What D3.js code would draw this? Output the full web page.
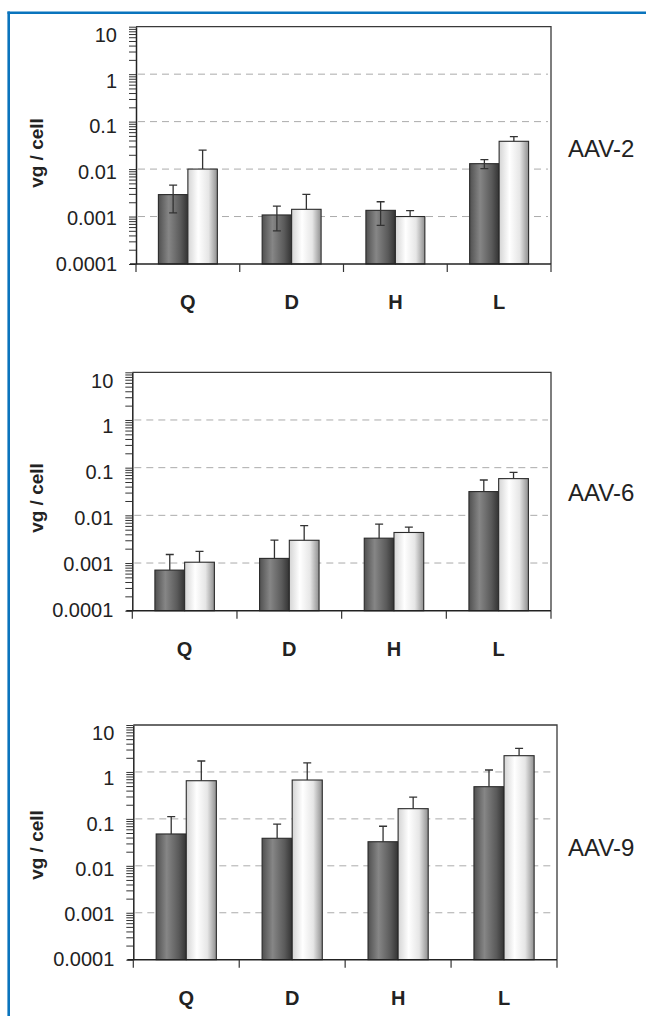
<!DOCTYPE html>
<html>
<head>
<meta charset="utf-8">
<script src="https://cdn.jsdelivr.net/npm/d3@7"></script>
<style>
  html, body { margin: 0; padding: 0; background: #fff; }
  svg { display: block; }
  text { font-family: "Liberation Sans", Arial, sans-serif; fill: #222; }
</style>
</head>
<body>
<svg id="fig" width="646" height="1016"></svg>
<script>
//======
// Data
//======
const categories = ["Q", "D", "H", "L"];
const panelNames = ["AAV-2", "AAV-6", "AAV-9"];
const yTicks = [0.0001, 0.001, 0.01, 0.1, 1, 10];
const yTickLabels = ["0.0001", "0.001", "0.01", "0.1", "1", "10"];
const yLabel = "vg / cell";

// dark bars / light bars, mean and error (one SD)
const aav2Dark = [0.0029, 0.00108, 0.00135, 0.0130];
const aav2DarkErr = [0.0017, 0.00058, 0.0007, 0.0028];
const aav2Light = [0.0100, 0.00142, 0.00100, 0.0385];
const aav2LightErr = [0.0152, 0.0015, 0.00033, 0.0097];

const aav6Dark = [0.00071, 0.00125, 0.00332, 0.0315];
const aav6DarkErr = [0.0008, 0.00177, 0.0032, 0.0236];
const aav6Light = [0.00104, 0.0030, 0.00437, 0.0589];
const aav6LightErr = [0.00071, 0.0031, 0.00127, 0.021];

const aav9Dark = [0.0477, 0.0386, 0.0326, 0.485];
const aav9DarkErr = [0.0636, 0.039, 0.037, 0.615];
const aav9Light = [0.650, 0.673, 0.165, 2.22];
const aav9LightErr = [1.06, 0.88, 0.127, 0.97];

//========
// Layout
//========
const panels = [
  { name: panelNames[0], dark: aav2Dark, darkErr: aav2DarkErr, light: aav2Light, lightErr: aav2LightErr,
    x0: 136, x1: 551, top: 26.7, bottom: 264, lowerErr: true, labelY: 157, ylabY: 153 },
  { name: panelNames[1], dark: aav6Dark, darkErr: aav6DarkErr, light: aav6Light, lightErr: aav6LightErr,
    x0: 132.3, x1: 551, top: 372.3, bottom: 610.7, lowerErr: false, labelY: 501, ylabY: 498 },
  { name: panelNames[2], dark: aav9Dark, darkErr: aav9DarkErr, light: aav9Light, lightErr: aav9LightErr,
    x0: 133.3, x1: 557, top: 725, bottom: 959.7, lowerErr: false, labelY: 856, ylabY: 845 }
];

const svg = d3.select("#fig");

// gradients for the two bar styles
const defs = svg.append("defs");
function grad(id, stops) {
  const g = defs.append("linearGradient").attr("id", id)
    .attr("x1", "0%").attr("x2", "100%").attr("y1", "0%").attr("y2", "0%");
  stops.forEach(s => g.append("stop").attr("offset", s[0]).attr("stop-color", s[1]));
}
grad("gDark", [["0%", "#505050"], ["35%", "#868686"], ["75%", "#5a5a5a"], ["100%", "#333333"]]);
grad("gLight", [["0%", "#d4d4d4"], ["35%", "#ffffff"], ["70%", "#e6e6e6"], ["100%", "#8f8f8f"]]);

// blue frame lines on the page
svg.append("line").attr("x1", 7.5).attr("x2", 646).attr("y1", 12.7).attr("y2", 12.7)
  .attr("stroke", "#0a74bd").attr("stroke-width", 2.6);
svg.append("line").attr("x1", 8.7).attr("x2", 8.7).attr("y1", 11.5).attr("y2", 1016)
  .attr("stroke", "#0a74bd").attr("stroke-width", 2.6);

panels.forEach(p => {
  const g = svg.append("g");

  const x = d3.scaleBand().domain(categories).range([p.x0, p.x1]).padding(0);
  const xs = d3.scaleBand().domain(["dark", "light"]).range([0, x.bandwidth()])
    .paddingInner(0).paddingOuter(0.76);
  const y = d3.scaleLog().domain([1e-4, 10]).range([p.bottom, p.top]);
  // tick labels sit a little tighter than the grid in the original
  const yLab = d3.scaleLog().domain([1e-4, 10]).range([p.bottom - 0.5, p.top + 8]);

  // grid
  g.append("g").selectAll("line")
    .data(yTicks.filter(t => t > 1e-4 && t < 10))
    .join("line")
    .attr("x1", p.x0 + 2).attr("x2", p.x1 - 3)
    .attr("y1", d => y(d)).attr("y2", d => y(d))
    .attr("stroke", "#ababab").attr("stroke-width", 1)
    .attr("stroke-dasharray", "7,5");

  // plot frame (top / right)
  g.append("path")
    .attr("d", `M${p.x0},${p.top}H${p.x1}V${p.bottom}`)
    .attr("fill", "none").attr("stroke", "#3a3a3a").attr("stroke-width", 1.3);

  const rows = categories.map((c, i) => ({
    cat: c,
    bars: [
      { key: "dark", v: p.dark[i], e: p.darkErr[i], lower: p.lowerErr },
      { key: "light", v: p.light[i], e: p.lightErr[i], lower: false }
    ]
  }));

  const grp = g.append("g").selectAll("g").data(rows).join("g")
    .attr("transform", d => `translate(${x(d.cat)},0)`);

  grp.selectAll("rect").data(d => d.bars).join("rect")
    .attr("x", d => xs(d.key))
    .attr("width", xs.bandwidth())
    .attr("y", d => y(d.v))
    .attr("height", d => p.bottom - y(d.v))
    .attr("fill", d => d.key === "dark" ? "url(#gDark)" : "url(#gLight)")
    .attr("stroke", "#2a2a2a").attr("stroke-width", 1.1);

  // error bars
  const eb = grp.selectAll("g.err").data(d => d.bars).join("g").attr("class", "err")
    .attr("stroke", "#333").attr("stroke-width", 1.3).attr("fill", "none");
  const cx = d => xs(d.key) + xs.bandwidth() / 2;
  eb.append("path").attr("d", d => {
    const hi = y(d.v + d.e);
    const lo = d.lower ? y(Math.max(d.v - d.e, 1e-4)) : y(d.v);
    let s = `M${cx(d)},${lo}V${hi}M${cx(d) - 4},${hi}H${cx(d) + 4}`;
    if (d.lower) s += `M${cx(d) - 4},${lo}H${cx(d) + 4}`;
    return s;
  });

  // y axis with minor ticks
  g.append("g").attr("transform", `translate(${p.x0},0)`)
    .call(d3.axisLeft(y).tickValues(y.ticks()).tickFormat("").tickSize(7).tickSizeOuter(0))
    .call(a => a.select(".domain").attr("stroke", "#222").attr("stroke-width", 1.5))
    .call(a => a.selectAll(".tick line").attr("stroke", "#333").attr("stroke-width", 1));

  g.append("g").selectAll("text").data(yTicks).join("text")
    .attr("x", p.x0 - 19)
    .attr("y", d => yLab(d))
    .attr("dy", "0.36em")
    .attr("text-anchor", "end")
    .attr("font-size", 20)
    .text((d, i) => yTickLabels[i]);

  // x axis with boundary ticks
  const bounds = categories.map(c => x(c)).concat([p.x1]);
  g.append("line").attr("x1", p.x0 - 6).attr("x2", p.x1).attr("y1", p.bottom).attr("y2", p.bottom)
    .attr("stroke", "#222").attr("stroke-width", 1.5);
  g.append("g").selectAll("line").data(bounds).join("line")
    .attr("x1", d => d).attr("x2", d => d)
    .attr("y1", p.bottom).attr("y2", p.bottom + 8)
    .attr("stroke", "#333").attr("stroke-width", 1.2);

  g.append("g").selectAll("text").data(categories).join("text")
    .attr("x", d => x(d) + x.bandwidth() / 2)
    .attr("y", p.bottom + 45)
    .attr("text-anchor", "middle")
    .attr("font-size", 20).attr("font-weight", "bold")
    .text(d => d);

  // axis title
  g.append("text")
    .attr("transform", `translate(43,${p.ylabY}) rotate(-90)`)
    .attr("text-anchor", "middle")
    .attr("font-size", 19).attr("font-weight", "bold")
    .text(yLabel);

  // panel name
  g.append("text")
    .attr("x", 568).attr("y", p.labelY)
    .attr("font-size", 24)
    .text(p.name);
});
</script>
</body>
</html>
